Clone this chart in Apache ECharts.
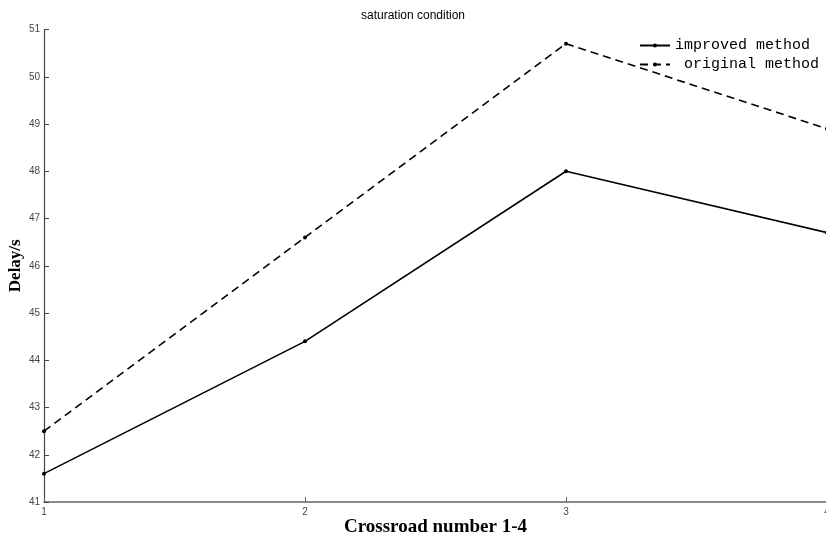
<!DOCTYPE html>
<html>
<head>
<meta charset="utf-8">
<script src="https://cdn.jsdelivr.net/npm/echarts@6/dist/echarts.min.js"></script>
<style>html,body{margin:0;padding:0;background:#fff;}#c{width:826px;height:541px;}</style>
</head>
<body>
<div id="c"></div>
<script>
const crossroads = [1, 2, 3, 4];
const improved = [41.6, 44.4, 48.0, 46.7];
const original = [42.5, 46.6, 50.7, 48.9];
const yTicks = [41, 42, 43, 44, 45, 46, 47, 48, 49, 50, 51];

const chart = echarts.init(document.getElementById('c'), null, {renderer: 'canvas'});
const pairs = (ys) => crossroads.map((x, i) => [x, ys[i]]);
chart.setOption({
  animation: false,
  backgroundColor: '#fff',
  title: {
    text: 'saturation condition',
    left: 'center', top: 5,
    textStyle: {fontFamily: 'Liberation Sans', fontSize: 12, fontWeight: 'normal', color: '#000'}
  },
  legend: {
    orient: 'vertical', left: 634, top: 33, itemGap: 4, padding: 5,
    itemWidth: 30, itemHeight: 5,
    textStyle: {fontFamily: 'Liberation Mono', fontSize: 15, color: '#000'},
    data: ['improved method', ' original method']
  },
  grid: {left: 44, right: -1, top: 29.5, bottom: 39, containLabel: false, outerBoundsMode: 'none'},
  xAxis: {
    type: 'value', min: 1, max: 4, interval: 1,
    name: 'Crossroad number 1-4', nameLocation: 'middle', nameGap: 16, nameMoveOverlap: false,
    nameTextStyle: {fontFamily: 'Liberation Serif', fontWeight: 'bold', fontSize: 19, color: '#000'},
    axisLine: {lineStyle: {color: '#666', width: 1.5}},
    axisTick: {inside: true, length: 5, lineStyle: {color: '#666'}},
    axisLabel: {fontFamily: 'Liberation Sans', fontSize: 10, color: '#444', margin: 5},
    splitLine: {show: false}
  },
  yAxis: {
    type: 'value', min: yTicks[0], max: yTicks[yTicks.length - 1], interval: 1,
    name: 'Delay/s', nameLocation: 'middle', nameGap: 20, nameRotate: 90, nameMoveOverlap: false,
    nameTextStyle: {fontFamily: 'Liberation Serif', fontWeight: 'bold', fontSize: 17, color: '#000'},
    axisLine: {show: true, lineStyle: {color: '#444', width: 1.2}},
    axisTick: {show: true, inside: true, length: 5, lineStyle: {color: '#444'}},
    axisLabel: {fontFamily: 'Liberation Sans', fontSize: 10, color: '#444', margin: 4},
    splitLine: {show: false}
  },
  series: [
    {
      name: 'improved method', type: 'line', data: pairs(improved),
      symbol: 'circle', symbolSize: 4, showSymbol: true,
      lineStyle: {color: '#000', width: 1.6, type: 'solid'},
      itemStyle: {color: '#000'}
    },
    {
      name: ' original method', type: 'line', data: pairs(original),
      symbol: 'circle', symbolSize: 4, showSymbol: true,
      lineStyle: {color: '#000', width: 1.6, type: [8, 5]},
      itemStyle: {color: '#000'}
    }
  ]
});
</script>
</body>
</html>
